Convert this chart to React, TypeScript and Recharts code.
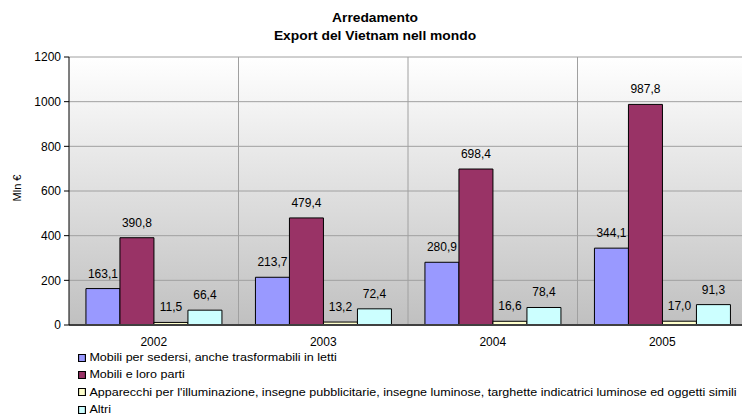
import React from 'react';
import { BarChart, Bar, XAxis, YAxis, CartesianGrid, LabelList } from 'recharts';

const categories = ['2002', '2003', '2004', '2005'];
const sedersi = [163.1, 213.7, 280.9, 344.1];
const mobili = [390.8, 479.4, 698.4, 987.8];
const apparecchi = [11.5, 13.2, 16.6, 17.0];
const altri = [66.4, 72.4, 78.4, 91.3];
const yTicks = [0, 200, 400, 600, 800, 1000, 1200];

const series = [
  { key: 'sedersi', name: 'Mobili per sedersi, anche trasformabili in letti', color: '#9999FF' },
  { key: 'mobili', name: 'Mobili e loro parti', color: '#993366' },
  { key: 'apparecchi', name: "Apparecchi per l'illuminazione, insegne pubblicitarie, insegne luminose, targhette indicatrici luminose ed oggetti simili", color: '#FFFFCC' },
  { key: 'altri', name: 'Altri', color: '#CCFFFF' }
];

const data = categories.map((year, i) => ({
  year,
  sedersi: sedersi[i],
  mobili: mobili[i],
  apparecchi: apparecchi[i],
  altri: altri[i]
}));

const font = '"Liberation Sans", Arial, sans-serif';
const fmt = (v: any) => Number(v).toFixed(1).replace('.', ',');

export default function App() {
  return <div style={{ position: 'absolute', left: 0, top: 0, width: 742, height: 420, overflow: 'hidden', background: '#fff', fontFamily: font }}>
      <div style={{ position: 'absolute', left: 0, width: 750, top: 9, textAlign: 'center', fontWeight: 'bold', fontSize: 12, lineHeight: '18px', color: '#000', transform: 'scaleX(1.15)', transformOrigin: '375px 0' }}>
        <div>Arredamento</div>
        <div>Export del Vietnam nell mondo</div>
      </div>
      <div style={{ position: 'absolute', left: 17, top: 188, transform: 'translate(-50%, -50%) rotate(-90deg)', fontSize: 11, whiteSpace: 'nowrap' }}>
        Mln €
      </div>
      <BarChart width={760} height={420} data={data} margin={{ top: 57, right: 13, left: 0, bottom: 65 }} barCategoryGap="10%" barGap={0}>
        <defs>
          <linearGradient id="bgGrad" x1="0" y1="0" x2="0" y2="1">
            <stop offset="0%" stopColor="#FFFFFF" />
            <stop offset="100%" stopColor="#C0C0C0" />
          </linearGradient>
        </defs>
        <CartesianGrid fill="url(#bgGrad)" stroke="#A0A0A0" verticalCoordinatesGenerator={({ offset }: any) => [1, 2, 3].map(i => offset.left + i * offset.width / 4)} />
        <XAxis dataKey="year" height={30} tickLine={false} tickMargin={6} axisLine={{ stroke: '#404040', strokeWidth: 2 }} tick={{ fill: '#000', fontSize: 12, fontFamily: font }} />
        <YAxis width={69} domain={[0, 1200]} ticks={yTicks} interval={0} axisLine={{ stroke: '#000' }} tickLine={{ stroke: '#000' }} tickSize={5} tickMargin={3} tick={{ fill: '#000', fontSize: 12, fontFamily: font }} />
        {series.map(s => <Bar key={s.key} dataKey={s.key} name={s.name} fill={s.color} stroke="#000" strokeWidth={1} isAnimationActive={false}>
            <LabelList dataKey={s.key} position="top" offset={11} formatter={fmt} style={{ fill: '#000', fontSize: 12, fontFamily: font }} />
          </Bar>)}
      </BarChart>
      <div style={{ position: 'absolute', left: 78, top: 349, fontSize: 11, lineHeight: '17.3px', color: '#000', transform: 'scaleX(1.14)', transformOrigin: '0 0' }}>
        {series.map(s => <div key={s.key} style={{ display: 'flex', alignItems: 'center', whiteSpace: 'nowrap' }}>
            <span style={{ display: 'inline-block', width: 5, height: 6, background: s.color, border: '1px solid #000', marginRight: 3 }} />
            <span>{s.name}</span>
          </div>)}
      </div>
    </div>;
}
